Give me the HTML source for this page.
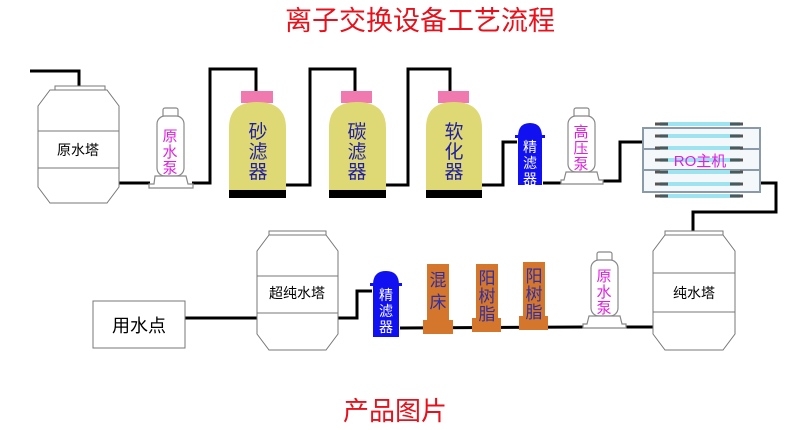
<!DOCTYPE html>
<html><head><meta charset="utf-8"><style>
html,body{margin:0;padding:0;background:#fff;}
svg{display:block;font-family:"Liberation Sans","Noto Sans CJK SC",sans-serif;}
</style></head><body>
<svg width="790" height="430" viewBox="0 0 790 430" xmlns="http://www.w3.org/2000/svg">
<text x="420" y="30" font-size="27" fill="#e8101a" text-anchor="middle">离子交换设备工艺流程</text>
<text x="395" y="420" font-size="26" fill="#e8101a" text-anchor="middle">产品图片</text>

<!-- pipes -->
<g fill="none" stroke="#000" stroke-width="3">
<polyline points="30,71 79,71 79,90"/>
<polyline points="119,183 150,183"/>
<polyline points="192,183 210,183 210,69 256,69 256,92"/>
<polyline points="286,185 310,185 310,69 355,69 355,92"/>
<polyline points="386,185 408,185 408,69 450,69 450,92"/>
<polyline points="482,185 503,185 503,142 517,142"/>
<polyline points="543,183 563,183"/>
<polyline points="600,181 620,181 620,142 643,142"/>
<polyline points="760,183 776,183 776,212 693,212 693,235"/>
<polyline points="653,327 625,327"/>
<polyline points="583,327 400,328"/>
<polyline points="372,291 357,291 357,318 338,318"/>
<polyline points="257,318 185,318"/>
</g>

<!-- tanks -->
<g fill="#fff" stroke="#777" stroke-width="1">
<rect x="55" y="86" width="50" height="4"/>
<path d="M50,90 L107,90 L119,106 L119,187 L107,203 L50,203 L38,187 L38,106 Z"/>
<line x1="38" y1="131" x2="119" y2="131"/><line x1="38" y1="168" x2="119" y2="168"/>
<rect x="269" y="231" width="57" height="4"/>
<path d="M269,235 L326,235 L338,251 L338,334 L326,350 L269,350 L257,334 L257,251 Z"/>
<line x1="257" y1="276" x2="338" y2="276"/><line x1="257" y1="313" x2="338" y2="313"/>
<rect x="665" y="231" width="58" height="4"/>
<path d="M665,235 L723,235 L735,251 L735,334 L723,350 L665,350 L653,334 L653,251 Z"/>
<line x1="653" y1="273" x2="735" y2="273"/><line x1="653" y1="312" x2="735" y2="312"/>
<rect x="93" y="301" width="92" height="47"/>
</g>
<g font-size="14" fill="#000" text-anchor="middle">
<text x="78" y="155">原水塔</text>
<text x="297" y="298">超纯水塔</text>
<text x="694" y="298">纯水塔</text>
<text x="139" y="332" font-size="18">用水点</text>
</g>

<!-- pumps -->
<g fill="#fff" stroke="#888" stroke-width="1.2">
<rect x="163" y="108" width="15" height="10" rx="2"/>
<rect x="157" y="116" width="27" height="60" rx="8"/>
<path d="M155,176 L186,176 L188,184 L193,184 L193,188 L149,188 L149,184 L154,184 Z"/>
<rect x="574" y="108" width="15" height="10" rx="2"/>
<rect x="568" y="116" width="27" height="56" rx="8"/>
<path d="M566,172 L597,172 L599,180 L603,180 L603,184 L561,184 L561,180 L564,180 Z"/>
<rect x="597" y="252" width="15" height="10" rx="2"/>
<rect x="591" y="260" width="27" height="56" rx="8"/>
<path d="M589,316 L620,316 L622,324 L626,324 L626,328 L583,328 L583,324 L587,324 Z"/>
</g>
<g font-size="15" fill="#e020e0" text-anchor="middle">
<text x="170" y="141">原</text><text x="170" y="157">水</text><text x="170" y="173">泵</text>
<text x="581" y="137">高</text><text x="581" y="153">压</text><text x="581" y="169">泵</text>
<text x="604" y="281">原</text><text x="604" y="297">水</text><text x="604" y="313">泵</text>
</g>

<!-- filters -->
<g>
<rect x="241" y="91" width="32" height="12" fill="#f07ab0"/>
<path d="M229,190 L229,128 Q229,102 257,102 Q286,102 286,128 L286,190 Z" fill="#dfd975"/>
<rect x="229" y="190" width="57" height="8" fill="#000"/>
<rect x="341" y="91" width="31" height="12" fill="#f07ab0"/>
<path d="M329,190 L329,128 Q329,102 357,102 Q386,102 386,128 L386,190 Z" fill="#dfd975"/>
<rect x="329" y="190" width="57" height="8" fill="#000"/>
<rect x="438" y="91" width="31" height="12" fill="#f07ab0"/>
<path d="M426,190 L426,128 Q426,102 454,102 Q482,102 482,128 L482,190 Z" fill="#dfd975"/>
<rect x="426" y="190" width="56" height="8" fill="#000"/>
</g>
<g font-size="19" fill="#2020a0" text-anchor="middle">
<text x="258" y="138">砂</text><text x="258" y="158">滤</text><text x="258" y="178">器</text>
<text x="357" y="138">碳</text><text x="357" y="158">滤</text><text x="357" y="178">器</text>
<text x="454" y="138">软</text><text x="454" y="158">化</text><text x="454" y="178">器</text>
</g>

<!-- fine filters -->
<g fill="#1010f0">
<path d="M518,185 L518,137 Q518,123 530,123 Q542,123 542,137 L542,185 Z"/>
<rect x="515" y="135" width="30" height="3"/>
<path d="M373,337 L373,285 Q373,271 386,271 Q399,271 399,285 L399,337 Z"/>
<rect x="370" y="283" width="32" height="3"/>
</g>
<g font-size="14" fill="#fff" text-anchor="middle">
<text x="530" y="152">精</text><text x="530" y="168">滤</text><text x="530" y="184">器</text>
<text x="386" y="300">精</text><text x="386" y="316">滤</text><text x="386" y="332">器</text>
</g>

<!-- resin columns -->
<g fill="#d4762c">
<rect x="427" y="264" width="22" height="58"/><rect x="423" y="320" width="30" height="14"/>
<rect x="476" y="264" width="22" height="56"/><rect x="472" y="318" width="29" height="14"/>
<rect x="523" y="262" width="22" height="56"/><rect x="519" y="316" width="29" height="14"/>
</g>
<g font-size="17" fill="#3030a0" text-anchor="middle">
<text x="438" y="286">混</text><text x="438" y="308">床</text>
<text x="487" y="284">阳</text><text x="487" y="302">树</text><text x="487" y="320">脂</text>
<text x="534" y="282">阳</text><text x="534" y="300">树</text><text x="534" y="318">脂</text>
</g>

<!-- RO -->
<g>
<rect x="643" y="128" width="117" height="64" fill="#f4f8fa" stroke="#8a9aa8" stroke-width="2"/>
<line x1="643" y1="149" x2="760" y2="149" stroke="#8a9aa8" stroke-width="2"/>
<line x1="643" y1="170" x2="760" y2="170" stroke="#8a9aa8" stroke-width="2"/>
<g stroke="#9ee4f0" stroke-width="4">
<line x1="660" y1="124" x2="740" y2="124"/><line x1="660" y1="136" x2="740" y2="136"/>
<line x1="660" y1="148" x2="740" y2="148"/><line x1="660" y1="160" x2="740" y2="160"/>
<line x1="660" y1="172" x2="740" y2="172"/><line x1="660" y1="184" x2="740" y2="184"/>
<line x1="660" y1="196" x2="740" y2="196"/>
</g>
<g stroke="#555" stroke-width="3">
<path d="M655,124h13M730,124h13M655,136h13M730,136h13M655,148h13M730,148h13M655,160h13M730,160h13M655,172h13M730,172h13M655,184h13M730,184h13M655,196h13M730,196h13"/>
</g>
<text x="700" y="166" font-size="15" fill="#e020e0" text-anchor="middle">RO主机</text>
</g>
</svg>
</body></html>
